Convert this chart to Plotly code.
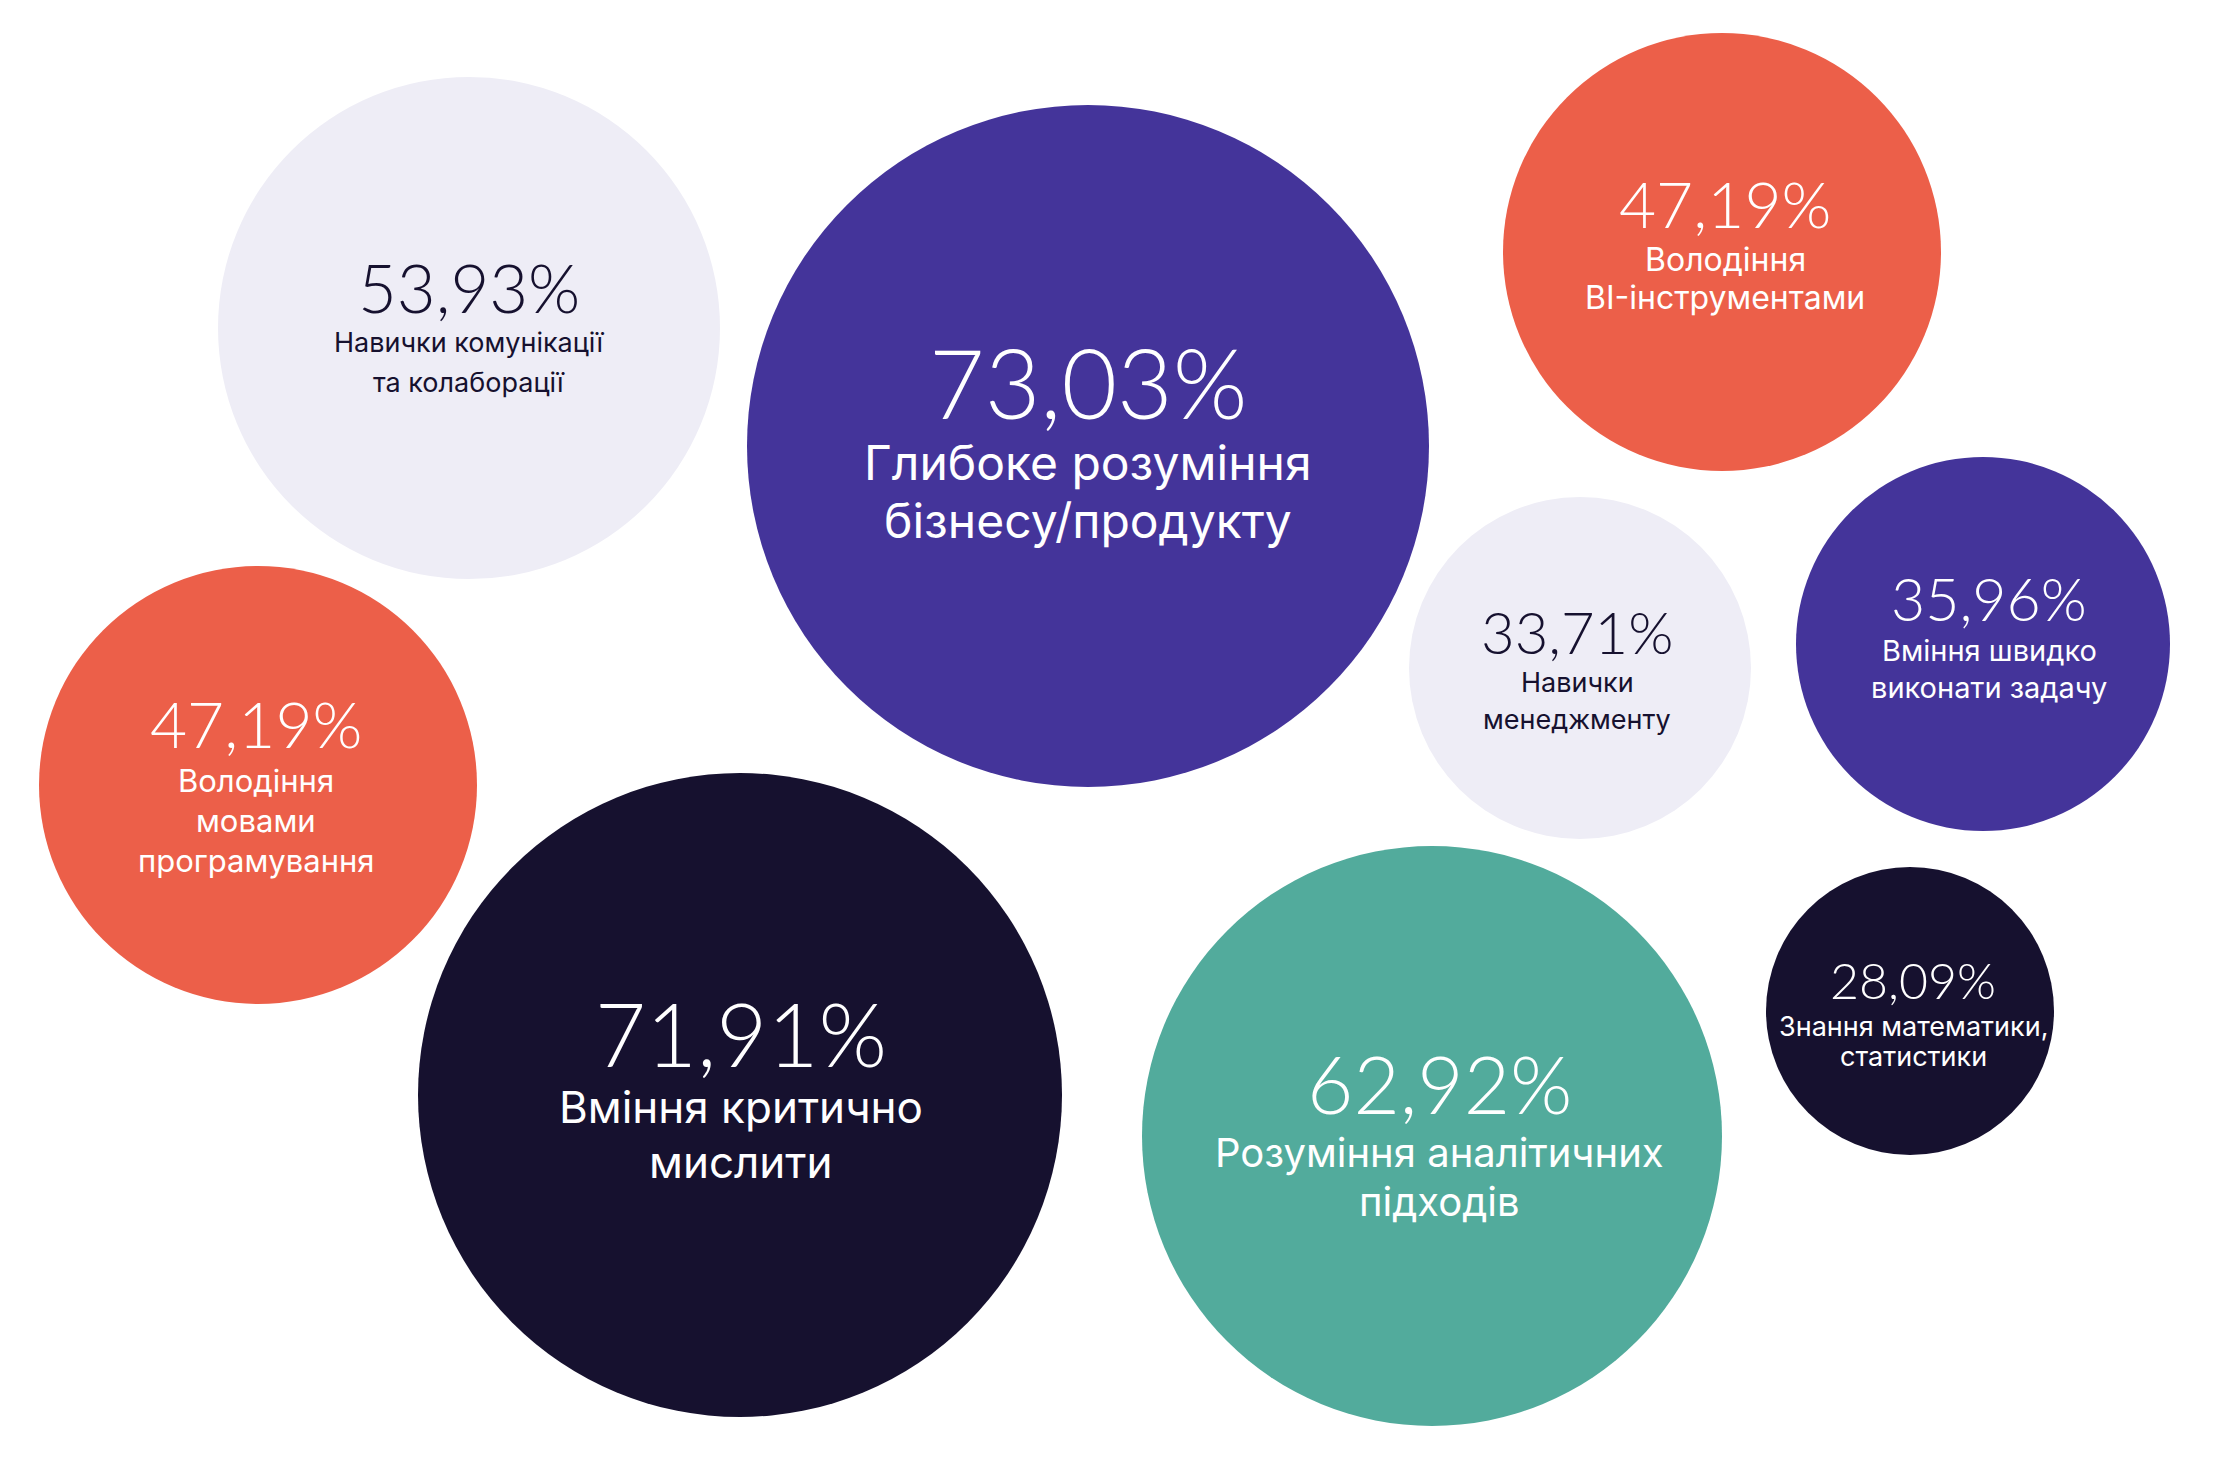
import plotly.graph_objects as go

# Skills and share of respondents (%)
values = [53.93, 73.03, 47.19, 47.19, 33.71, 35.96, 71.91, 62.92, 28.09]
labels = [
    ["Навички комунікації", "та колаборації"],
    ["Глибоке розуміння", "бізнесу/продукту"],
    ["Володіння", "BI-інструментами"],
    ["Володіння", "мовами", "програмування"],
    ["Навички", "менеджменту"],
    ["Вміння швидко", "виконати задачу"],
    ["Вміння критично", "мислити"],
    ["Розуміння аналітичних", "підходів"],
    ["Знання математики,", "статистики"],
]

# packed bubble layout: centres and radii on the page (px)
cx = [469, 1088, 1722, 258, 1580, 1983, 740, 1432, 1910]
cy = [328, 446, 252, 785, 668, 644, 1095, 1136, 1011]
radius = [251, 341, 219, 219, 171, 187, 322, 290, 144]

LIGHT = "#EEEDF6"
PURPLE = "#44349A"
ORANGE = "#EC5F49"
DARK = "#16112F"
TEAL = "#52AB9C"
colors = [LIGHT, PURPLE, ORANGE, ORANGE, LIGHT, PURPLE, DARK, TEAL, DARK]
text_colors = ["#16112F" if c == LIGHT else "#FFFFFF" for c in colors]

# text styling per bubble:
# (x shift, pct offset, first label line offset, line gap, pct size, label size)
text_style = [
    (0, -41, 14, 40, 67, 27),
    (0, -65, 16, 58, 96, 48),
    (3, -49, 7, 38, 64, 32),
    (-2, -62, -5, 40, 64, 31),
    (-3, -37, 14, 37, 58, 27),
    (6, -46, 6, 37, 59, 29),
    (1, -62, 12, 55, 88, 44),
    (7, -53, 16, 49, 80, 40),
    (3, -31, 15, 30, 50, 27),
]

fig = go.Figure()
fig.add_trace(go.Scatter(
    x=cx, y=cy,
    mode="markers",
    marker=dict(size=[2 * r for r in radius], sizemode="diameter",
                color=colors, line=dict(width=0), opacity=1),
    hoverinfo="skip",
    showlegend=False,
))

annotations = []
for i, v in enumerate(values):
    dx, pdy, ldy, gap, psize, lsize = text_style[i]
    pct = f"{v:.2f}".replace(".", ",") + "%"
    annotations.append(dict(
        x=cx[i] + dx, y=cy[i] + pdy, text=pct, showarrow=False,
        xanchor="center", yanchor="middle",
        font=dict(family="Lato", size=psize, color=text_colors[i], weight=300),
    ))
    for j, line in enumerate(labels[i]):
        annotations.append(dict(
            x=cx[i] + dx, y=cy[i] + ldy + j * gap, text=line, showarrow=False,
            xanchor="center", yanchor="middle",
            font=dict(family="Inter", size=lsize, color=text_colors[i]),
        ))

fig.update_layout(
    width=2203, height=1454,
    margin=dict(l=0, r=0, t=0, b=0),
    paper_bgcolor="white",
    plot_bgcolor="white",
    xaxis=dict(range=[8, 2211], visible=False, fixedrange=True),
    yaxis=dict(range=[1462, 8], visible=False, fixedrange=True),
    annotations=annotations,
)

fig.write_html("out.html")
